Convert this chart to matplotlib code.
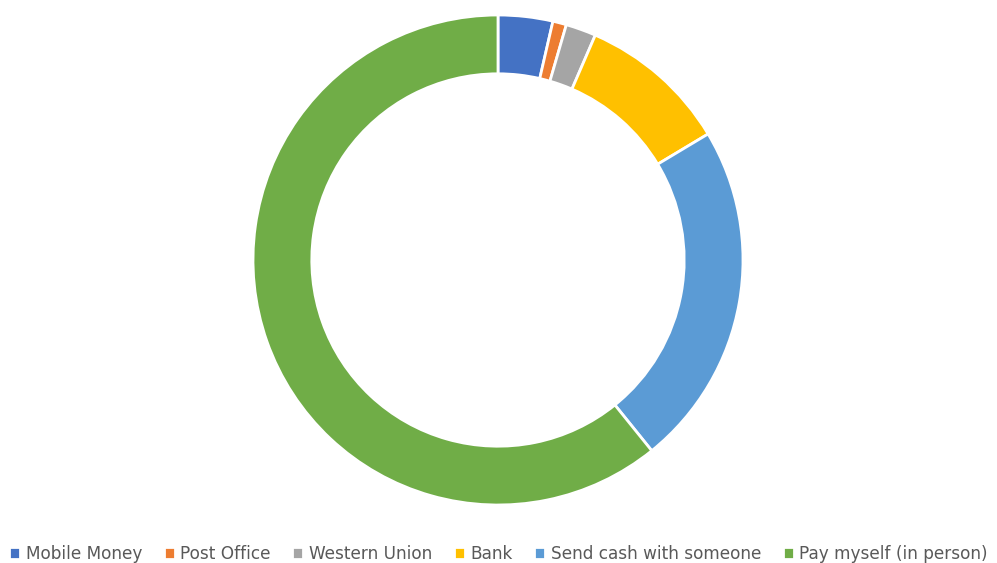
import matplotlib.pyplot as plt

# --- Data ----------------------------------------------------------------
labels = ["Mobile Money", "Post Office", "Western Union", "Bank",
          "Send cash with someone", "Pay myself (in person)"]
shares = [3.6, 0.9, 2.0, 9.9, 22.8, 60.8]
colors = ["#4472C4", "#ED7D31", "#A5A5A5", "#FFC000", "#5B9BD5", "#70AD47"]

# --- Plot ----------------------------------------------------------------
W, H = 997, 563
fig = plt.figure(figsize=(W / 100, H / 100), dpi=100)
cx, cy, r = 498, 260, 245
ax = fig.add_axes([(cx - r) / W, (H - cy - r) / H, 2 * r / W, 2 * r / H])

wedges, _ = ax.pie(shares, colors=colors, startangle=90, counterclock=False,
                   radius=1, wedgeprops=dict(width=0.24, edgecolor="white", linewidth=2))
ax.set_xlim(-1, 1)
ax.set_ylim(-1, 1)
ax.set_aspect("equal")
ax.axis("off")

fig.legend(wedges, labels, loc="lower center", bbox_to_anchor=(0.5, -0.012),
           ncol=6, frameon=False, fontsize=12.2, labelcolor="#595959",
           handlelength=0.65, handleheight=0.65, handletextpad=0.35,
           columnspacing=1.25, borderaxespad=0.0)

fig.savefig("out.png", dpi=100)
